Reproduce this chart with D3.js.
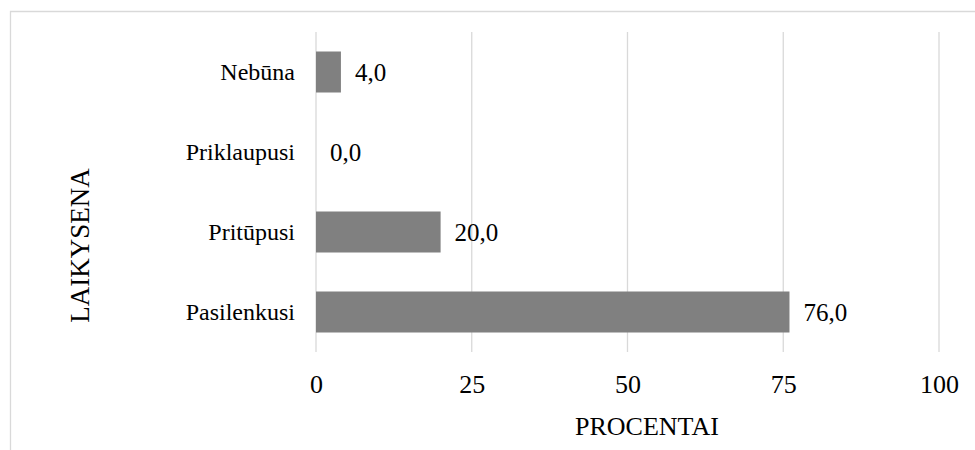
<!DOCTYPE html>
<html>
<head>
<meta charset="utf-8">
<script src="https://cdn.jsdelivr.net/npm/d3@7"></script>
<style>
  html, body { margin: 0; padding: 0; background: #fff; }
  svg { display: block; font-family: "Liberation Serif", "Times New Roman", serif; }
</style>
</head>
<body>
<svg id="chart" width="975" height="450"></svg>
<script>
const categories = ["Nebūna", "Priklaupusi", "Pritūpusi", "Pasilenkusi"];
const values = [4.0, 0.0, 20.0, 76.0];
const xTicks = [0, 25, 50, 75, 100];

const svg = d3.select("#chart");
const plotLeft = 316, plotRight = 939, plotTop = 32, plotBottom = 352;

// chart area border (only top and left are in view)
svg.append("path")
    .attr("d", "M10.5,450V11.5H975")
    .attr("fill", "none")
    .attr("stroke", "#d9d9d9")
    .attr("stroke-width", 1.3);

const x = d3.scaleLinear().domain([0, 100]).range([plotLeft, plotRight]);
const y = d3.scaleBand()
    .domain(categories)
    .range([plotTop, plotBottom])
    .paddingInner(0.4875)
    .paddingOuter(0.24375);

// gridlines
svg.append("g")
    .selectAll("line")
    .data(xTicks)
    .join("line")
    .attr("x1", d => x(d))
    .attr("x2", d => x(d))
    .attr("y1", plotTop)
    .attr("y2", plotBottom)
    .attr("stroke", "#d9d9d9")
    .attr("stroke-width", 1.3);

// bars
svg.append("g")
    .selectAll("rect")
    .data(values)
    .join("rect")
    .attr("x", x(0))
    .attr("y", (d, i) => y(categories[i]))
    .attr("width", d => x(d) - x(0))
    .attr("height", y.bandwidth())
    .attr("fill", "#808080");

const fmt = d => d3.format(".1f")(d).replace(".", ",");

// value labels
svg.append("g")
    .selectAll("text")
    .data(values)
    .join("text")
    .attr("x", d => x(d) + 14)
    .attr("y", (d, i) => y(categories[i]) + y.bandwidth() / 2)
    .attr("dy", "0.35em")
    .attr("font-size", 25)
    .attr("fill", "#000")
    .text(fmt);

// category labels
const yAxis = d3.axisLeft(y).tickSize(0).tickPadding(21);
const gy = svg.append("g")
    .attr("transform", `translate(${plotLeft},0)`)
    .call(yAxis);
gy.select(".domain").remove();
gy.selectAll("text")
    .attr("font-size", 24)
    .attr("font-family", "Liberation Serif")
    .attr("fill", "#000");

// x tick labels
const xAxis = d3.axisBottom(x).tickValues(xTicks).tickSize(0).tickPadding(0);
const gx = svg.append("g")
    .attr("transform", "translate(0,393)")
    .call(xAxis);
gx.select(".domain").remove();
gx.selectAll("text")
    .attr("dy", 0)
    .attr("font-size", 26)
    .attr("font-family", "Liberation Serif")
    .attr("fill", "#000");

// axis titles
svg.append("text")
    .attr("x", 575)
    .attr("y", 435)
    .attr("font-size", 26)
    .attr("fill", "#000")
    .text("PROCENTAI");

svg.append("text")
    .attr("transform", "translate(89,245.5) rotate(-90)")
    .attr("text-anchor", "middle")
    .attr("font-size", 27)
    .attr("fill", "#000")
    .text("LAIKYSENA");
</script>
</body>
</html>
